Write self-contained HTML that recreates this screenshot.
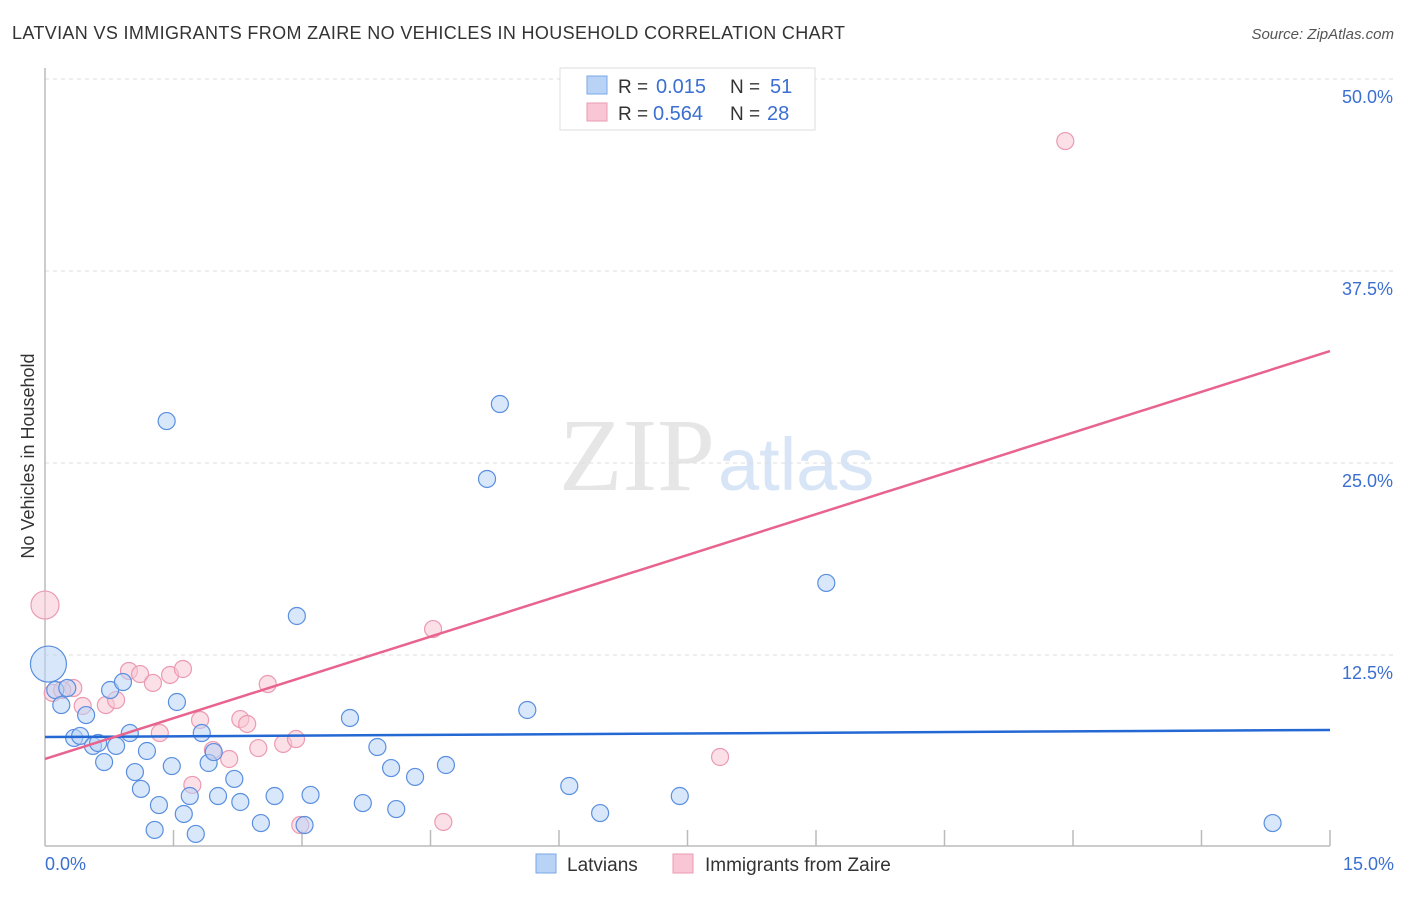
<!DOCTYPE html>
<html><head><meta charset="utf-8"><style>
body{margin:0;background:#fff;font-family:"Liberation Sans",sans-serif;}
</style></head><body>
<svg id="chart" width="1406" height="892" xmlns="http://www.w3.org/2000/svg">
<text x="12" y="39" font-size="18" fill="#333" textLength="833">LATVIAN VS IMMIGRANTS FROM ZAIRE NO VEHICLES IN HOUSEHOLD CORRELATION CHART</text>
<text x="1394" y="39" font-size="15" fill="#555" font-style="italic" text-anchor="end">Source: ZipAtlas.com</text>
<text x="715" y="490" font-size="104" fill="#e6e6e6" text-anchor="end" font-family="Liberation Serif,serif">ZIP</text>
<text x="718" y="490" font-size="74" fill="#d8e5f6">atlas</text>
<g id="grid"></g><g id="axes"></g><g id="marks"></g>
<text transform="translate(34,456) rotate(-90)" font-size="18" fill="#333" text-anchor="middle">No Vehicles in Household</text>
<text x="45" y="870" font-size="18" fill="#3b6fd1">0.0%</text>
<text x="1394" y="870" font-size="18" fill="#3b6fd1" text-anchor="end">15.0%</text>
<g>
<rect x="560" y="68" width="255" height="62" fill="#fff" stroke="#ddd"/>
<rect x="587" y="76" width="20" height="18" fill="#b8d3f5" stroke="#7aa7e6"/>
<rect x="587" y="103" width="20" height="18" fill="#f8c6d4" stroke="#ec9ab2"/>
<text x="618" y="93" font-size="19" fill="#333">R =</text>
<text x="656" y="93" font-size="20" fill="#3b6fd1">0.015</text>
<text x="730" y="93" font-size="19" fill="#333">N =</text>
<text x="770" y="93" font-size="20" fill="#3b6fd1">51</text>
<text x="618" y="120" font-size="19" fill="#333">R =</text>
<text x="653" y="120" font-size="20" fill="#3b6fd1">0.564</text>
<text x="730" y="120" font-size="19" fill="#333">N =</text>
<text x="767" y="120" font-size="20" fill="#3b6fd1">28</text>
</g>
<g>
<rect x="536" y="854" width="20" height="19" fill="#b8d3f5" stroke="#7aa7e6"/>
<text x="567" y="871" font-size="19" fill="#333">Latvians</text>
<rect x="673" y="854" width="20" height="19" fill="#f8c6d4" stroke="#ec9ab2"/>
<text x="705" y="871" font-size="19" fill="#333">Immigrants from Zaire</text>
</g>
</svg>
<script>
const yTicks=[12.5,25,37.5,50];
const yTickLabels=["12.5%","25.0%","37.5%","50.0%"];
const blueX=[1.42,5.31,5.16,9.12,2.94,14.33,0.04,0.12,0.19,0.26,0.48,0.34,0.41,0.56,0.62,0.69,0.76,0.83,0.91,0.99,1.05,1.12,1.19,1.28,1.33,1.48,1.54,1.62,1.69,1.76,1.83,1.91,1.97,2.02,2.21,2.28,2.52,2.68,3.03,3.10,3.56,3.71,3.88,4.04,4.10,4.32,4.68,5.63,6.12,6.48,7.41];
const blueY=[27.73,28.84,23.96,17.19,15.04,1.56,11.91,10.22,9.24,10.35,8.59,7.10,7.23,6.58,6.77,5.53,10.22,6.58,10.74,7.42,4.88,3.78,6.25,1.11,2.73,5.27,9.44,2.15,3.32,0.85,7.42,5.47,6.18,3.32,4.43,2.93,1.56,3.32,1.43,3.39,8.40,2.86,6.51,5.14,2.47,4.56,5.34,8.92,3.97,2.21,3.32];
const blueBig=[6];
const pinkX=[0,11.91,4.53,0.09,0.33,0.44,0.71,0.83,0.98,1.11,1.26,1.34,1.46,1.61,1.72,1.81,1.96,2.15,2.28,2.36,2.49,2.60,2.78,2.93,2.98,4.65,7.88,0.20];
const pinkY=[15.75,45.96,14.19,10.03,10.35,9.18,9.24,9.57,11.46,11.26,10.68,7.42,11.20,11.59,4.04,8.27,6.31,5.73,8.33,8.01,6.44,10.61,6.71,7.03,1.43,1.63,5.86,10.22];
const pinkBig=[0];
const blueTrend=[7.16,7.62];
const pinkTrend=[5.73,32.29];
const X0=45,X1=1330,Y0=847,YPER50=768;
function sx(v){return X0+v/15*(X1-X0);}
function sy(v){return Y0-v/50*YPER50;}
const NS="http://www.w3.org/2000/svg";
function mk(tag,attrs,parent){const e=document.createElementNS(NS,tag);for(const k in attrs)e.setAttribute(k,attrs[k]);parent.appendChild(e);return e;}
const grid=document.getElementById('grid'),axes=document.getElementById('axes'),marks=document.getElementById('marks');
yTicks.forEach((t,i)=>{
 const l=mk('line',{x1:45,x2:1394,y1:sy(t),y2:sy(t),stroke:'#ddd','stroke-dasharray':'4,4'},grid);
 
 
 const tx=mk('text',{x:1393,y:sy(t)+24,'font-size':18,fill:'#3b6fd1','text-anchor':'end'},grid);
 tx.textContent=yTickLabels[i];
 
 
});
const ya=mk('line',{x1:45,x2:45,y1:68,y2:846,stroke:'#bbb','stroke-width':1.5},axes);


const xa=mk('line',{x1:45,x2:1330,y1:846,y2:846,stroke:'#bbb','stroke-width':1.5},axes);


for(let i=1;i<=10;i++){
 const v=i*1.5;
 const tk=mk('line',{x1:sx(v),x2:sx(v),y1:830,y2:846,stroke:'#bbb','stroke-width':1.5},axes);
 
 
}
function dots(xs,ys,big,fill,stroke,name){
 xs.forEach((x,i)=>{
  const r=big.includes(i)?(name==='latvian-point'?18:14):8.5;
  const c=mk('circle',{cx:sx(x),cy:sy(ys[i]),r:r,fill:fill,'fill-opacity':0.55,stroke:stroke,'stroke-width':1.2},marks);
  
  
 });
}
dots(pinkX,pinkY,pinkBig,'#f8c6d4','#ec9ab2','zaire-point');
dots(blueX,blueY,blueBig,'#b8d3f5','#5a8fe0','latvian-point');
const bt=mk('line',{x1:sx(0),x2:sx(15),y1:sy(blueTrend[0]),y2:sy(blueTrend[1]),stroke:'#2468d4','stroke-width':2.5},marks);


const pt=mk('line',{x1:sx(0),x2:sx(15),y1:sy(pinkTrend[0]),y2:sy(pinkTrend[1]),stroke:'#e8648f','stroke-width':2.5},marks);


</script>
</body></html>
